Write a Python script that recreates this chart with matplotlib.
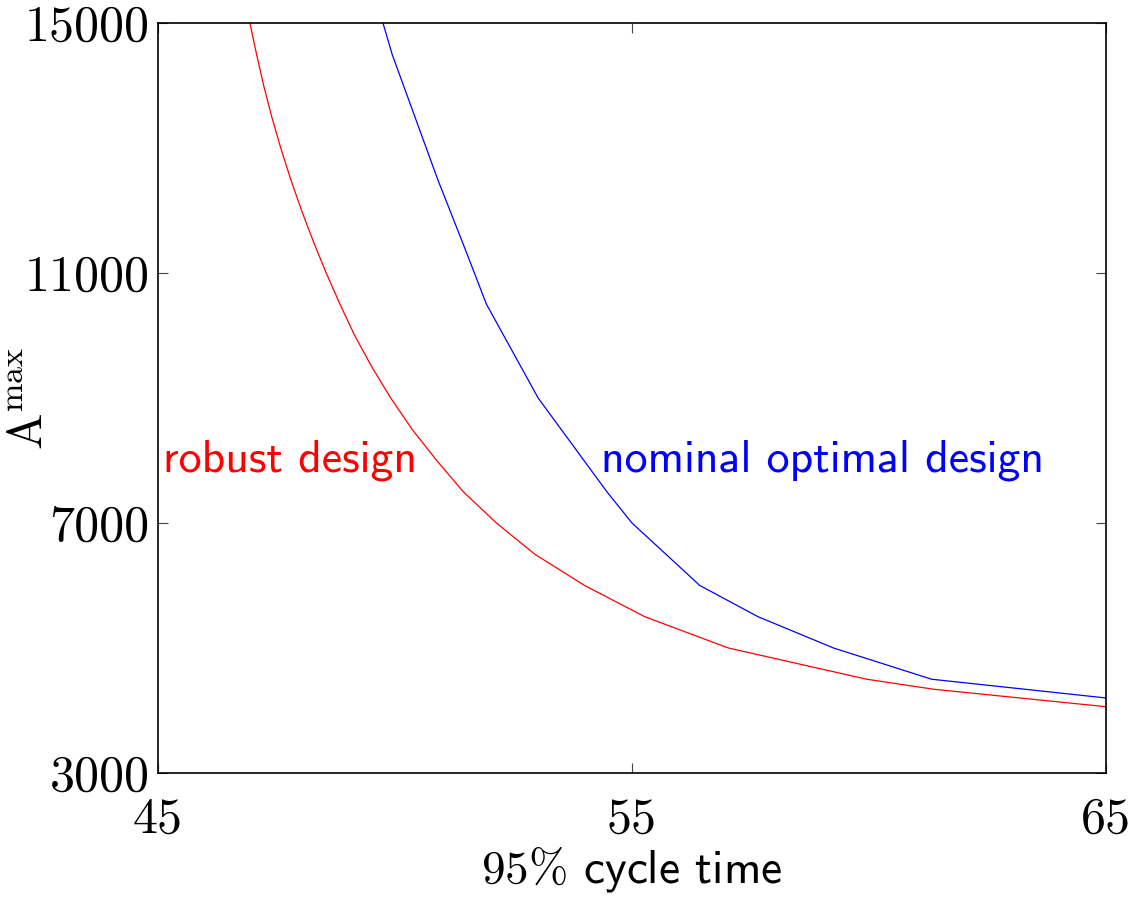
import matplotlib
matplotlib.use("Agg")
import matplotlib.pyplot as plt

plt.rcParams["font.family"] = "cmr10"
plt.rcParams["mathtext.fontset"] = "cm"
plt.rcParams["axes.formatter.use_mathtext"] = True

# robust design: cycle time vs A max
robust_t = [46.94, 47.08, 47.23, 47.40, 47.59, 47.80, 48.03, 48.28, 48.55, 48.84,
            49.15, 49.51, 49.91, 50.36, 50.88, 51.44, 52.14, 52.95, 54.00, 55.27,
            57.03, 59.95, 61.36, 65.00]
robust_a = [15000, 14500, 14000, 13500, 13000, 12500, 12000, 11500, 11000, 10500,
            10000, 9500, 9000, 8500, 8000, 7500, 7000, 6500, 6000, 5500,
            5000, 4500, 4340, 4060]

# nominal optimal design
nominal_t = [49.36, 49.94, 50.42, 50.90, 51.42, 51.93, 53.02, 54.47, 55.00, 56.43,
             57.66, 59.25, 61.32, 65.00]
nominal_a = [16000, 14500, 13500, 12500, 11500, 10500, 9000, 7500, 7000, 6000,
             5500, 5000, 4500, 4200]

xticks = [45, 55, 65]
yticks = [3000, 7000, 11000, 15000]

fig = plt.figure(figsize=(11.38, 8.99), dpi=100)
ax = fig.add_axes([0.1388, 0.1402, 0.8331, 0.8342])

ax.plot(robust_t, robust_a, color="red", lw=0.9)
ax.plot(nominal_t, nominal_a, color="blue", lw=0.9)

ax.set_xlim(45, 65)
ax.set_ylim(3000, 15000)
ax.set_xticks(xticks)
ax.set_yticks(yticks)
ax.set_xticklabels([str(v) for v in xticks])
ax.set_yticklabels([str(v) for v in yticks])
ax.tick_params(direction="in", length=7, width=0.8, color="#444444",
               top=True, right=True, labelsize=36)
ax.tick_params(axis="x", pad=17)
ax.tick_params(axis="y", pad=6)
for s in ax.spines.values():
    s.set_linewidth(1.2)

ax.set_xlabel(r"$95\%$ cycle time", fontfamily="cmss10", fontsize=34, labelpad=1)
ax.set_ylabel(r"$\mathrm{A}^{\mathrm{max}}$", fontsize=35)
ax.yaxis.set_label_coords(-0.112, 0.5)

ax.text(45.1, 7816, "robust design", color="red", fontfamily="cmss10",
        fontsize=33, ha="left", va="baseline")
ax.text(54.35, 7816, "nominal optimal design", color="blue", fontfamily="cmss10",
        fontsize=33, ha="left", va="baseline")

fig.savefig("out.png", dpi=100)
